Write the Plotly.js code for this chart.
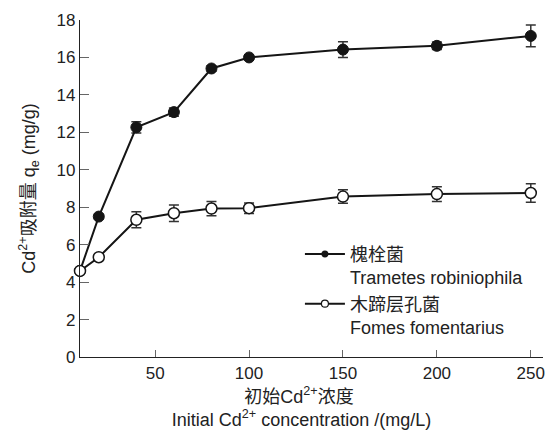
<!DOCTYPE html>
<html>
<head>
<meta charset="utf-8">
<script src="https://cdn.plot.ly/plotly-3.0.1.min.js"></script>
<style>html,body{margin:0;padding:0;background:#fff;}#chart{width:552px;height:433px;}</style>
</head>
<body>
<div id="chart"></div>
<script>
var concentration = [10, 20, 40, 60, 80, 100, 150, 200, 250];
var trametesQe = [4.6, 7.5, 12.27, 13.08, 15.41, 16.0, 16.42, 16.62, 17.15];
var trametesErr = [0.1, 0.12, 0.3, 0.22, 0.15, 0.1, 0.42, 0.2, 0.58];
var fomesQe = [4.6, 5.33, 7.33, 7.68, 7.93, 7.95, 8.57, 8.7, 8.76];
var fomesErr = [0.1, 0.1, 0.43, 0.44, 0.38, 0.28, 0.36, 0.39, 0.5];
var yTicks = [0, 2, 4, 6, 8, 10, 12, 14, 16, 18];
var xTicks = [50, 100, 150, 200, 250];
var seriesNames = ['槐栓菌<br>Trametes robiniophila', '木蹄层孔菌<br>Fomes fomentarius'];

var FONT = 'Liberation Sans, Arial, Noto Sans CJK SC, sans-serif';
var LINE = '#151515';
function pad(n) { return '\u00A0'.repeat(n) + '\u200B'; }

var traces = [
  {
    x: concentration, y: trametesQe, type: 'scatter', mode: 'lines+markers',
    error_y: {type: 'data', array: trametesErr, visible: true, color: '#333', thickness: 1.5, width: 5},
    line: {color: LINE, width: 2},
    marker: {symbol: 'circle', size: 11, color: LINE, line: {color: LINE, width: 1}},
    cliponaxis: false, showlegend: false
  },
  {
    x: concentration, y: fomesQe, type: 'scatter', mode: 'lines+markers',
    error_y: {type: 'data', array: fomesErr, visible: true, color: '#333', thickness: 1.5, width: 5},
    line: {color: LINE, width: 2},
    marker: {symbol: 'circle', size: 11, color: '#fff', line: {color: LINE, width: 1.5}},
    cliponaxis: false, showlegend: false
  },
  {
    x: [null], y: [null], type: 'scatter', mode: 'lines+markers', name: seriesNames[0],
    line: {color: LINE, width: 2}, marker: {size: 7, color: LINE}
  },
  {
    x: [null], y: [null], type: 'scatter', mode: 'lines+markers', name: seriesNames[1],
    line: {color: LINE, width: 2}, marker: {size: 7, color: '#fff', line: {color: LINE, width: 1.2}}
  }
];

var layout = {
  width: 552, height: 433,
  margin: {l: 80, r: 9, t: 20, b: 76},
  paper_bgcolor: '#fff', plot_bgcolor: '#fff',
  font: {family: FONT, color: '#222', size: 16},
  showlegend: true,
  legend: {
    x: 0.475, y: 0.36, xanchor: 'left', yanchor: 'top', valign: 'top',
    itemwidth: 40,
    bgcolor: 'rgba(0,0,0,0)', font: {family: FONT, size: 18, color: '#222'},
    tracegroupgap: 0
  },
  xaxis: {
    range: [10, 256.5], tickvals: xTicks, ticktext: xTicks.map(String),
    showgrid: false, zeroline: false, showline: true, linecolor: '#222', linewidth: 1.2,
    ticks: 'inside', ticklen: 7, tickcolor: '#666', tickwidth: 1,
    tickfont: {size: 17, family: FONT, color: '#222'},
    title: {text: '初始Cd<sup>2+</sup>浓度' + pad(5) + '<br>Initial Cd<sup>2+</sup> concentration /(mg/L)' + pad(4), font: {size: 18, family: FONT, color: '#222'}, standoff: 8}
  },
  yaxis: {
    range: [0, 18], tickvals: yTicks, ticktext: yTicks.map(String),
    showgrid: false, zeroline: false, showline: true, linecolor: '#222', linewidth: 1.2,
    ticks: 'inside', ticklen: 9, tickcolor: '#666', tickwidth: 1,
    tickfont: {size: 17, family: FONT, color: '#222'},
    title: {text: 'Cd<sup>2+</sup>吸附量 q<sub>e</sub> (mg/g)', font: {size: 18, family: FONT, color: '#222'}, standoff: 16}
  }
};

Plotly.newPlot('chart', traces, layout, {displayModeBar: false, staticPlot: true});
</script>
</body>
</html>
